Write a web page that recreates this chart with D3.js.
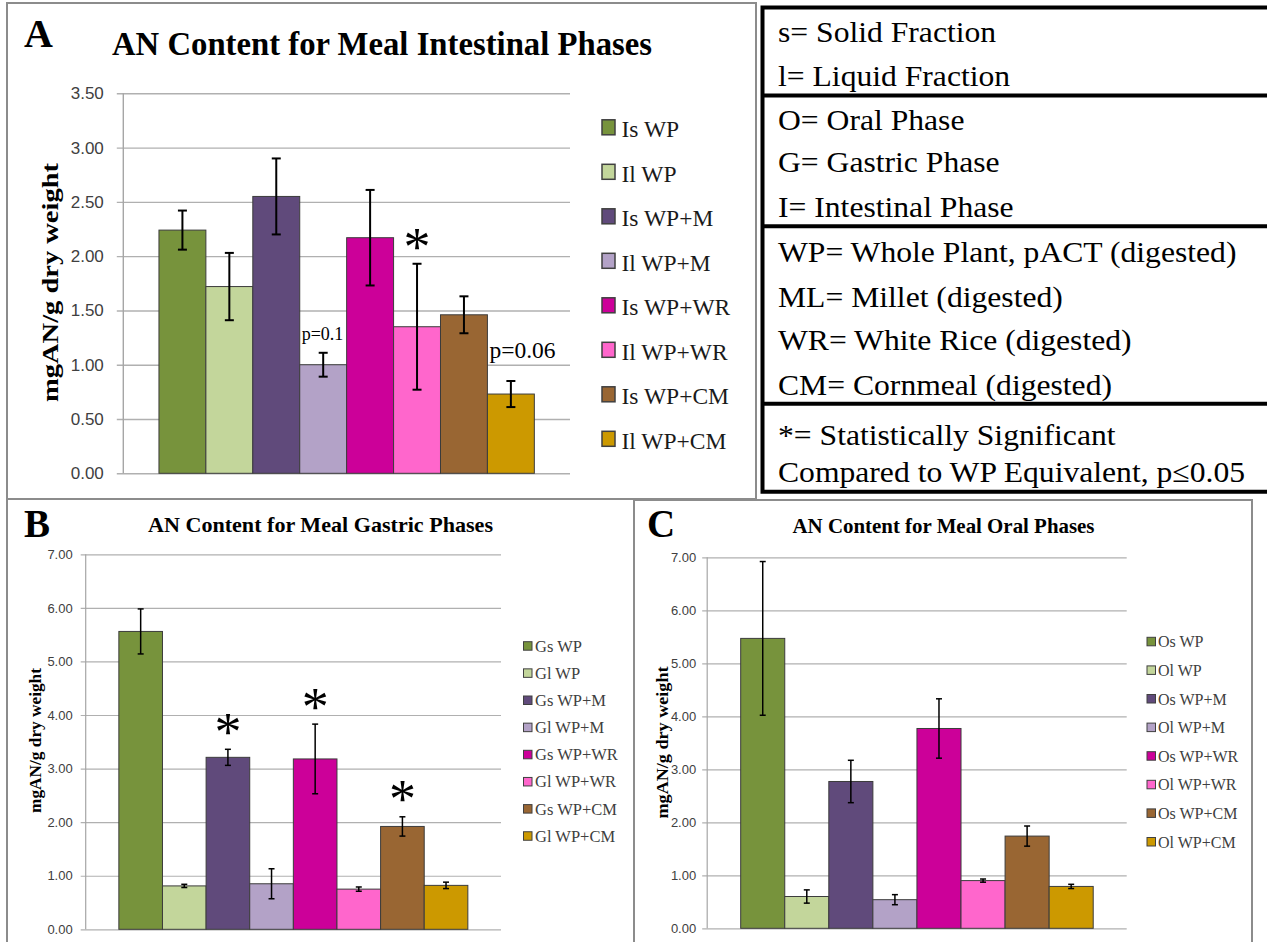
<!DOCTYPE html>
<html>
<head>
<meta charset="utf-8">
<script src="https://cdn.jsdelivr.net/npm/d3@7"></script>
<style>
  html, body { margin: 0; padding: 0; background: #ffffff; }
  svg { display: block; }
</style>
</head>
<body>
<svg id="fig" width="1267" height="942"></svg>
<script>
// ---- Data ----
const barColors = ["#77933C", "#C3D69B", "#604A7B", "#B3A2C7", "#CC0099", "#FF66CC", "#996633", "#CC9900"];

const intestinalLabels = ["Is WP", "Il WP", "Is WP+M", "Il WP+M", "Is WP+WR", "Il WP+WR", "Is WP+CM", "Il WP+CM"];
const intestinalMeans  = [2.24, 1.72, 2.55, 1.00, 2.17, 1.35, 1.46, 0.73];
const intestinalErrors = [0.18, 0.31, 0.35, 0.11, 0.44, 0.58, 0.17, 0.12];
const intestinalSignificant = [5];
const intestinalNoteIndex = [3, 7];
const intestinalNoteText  = ["p=0.1", "p=0.06"];
const intestinalNoteAt    = [1.23, 1.06];

const gastricLabels = ["Gs WP", "Gl WP", "Gs WP+M", "Gl WP+M", "Gs WP+WR", "Gl WP+WR", "Gs WP+CM", "Gl WP+CM"];
const gastricMeans  = [5.56, 0.81, 3.21, 0.85, 3.18, 0.75, 1.92, 0.82];
const gastricErrors = [0.42, 0.03, 0.15, 0.28, 0.65, 0.04, 0.18, 0.06];
const gastricSignificant = [2, 4, 6];

const oralLabels = ["Os WP", "Ol WP", "Os WP+M", "Ol WP+M", "Os WP+WR", "Ol WP+WR", "Os WP+CM", "Ol WP+CM"];
const oralMeans  = [5.47, 0.60, 2.77, 0.54, 3.77, 0.90, 1.74, 0.79];
const oralErrors = [1.45, 0.125, 0.40, 0.095, 0.56, 0.03, 0.19, 0.04];
const oralSignificant = [];

const ticksIntestinal = [0, 0.5, 1, 1.5, 2, 2.5, 3, 3.5];
const ticksGastricOral = [0, 1, 2, 3, 4, 5, 6, 7];

const keyLines = [
  ["s= Solid Fraction", "l= Liquid Fraction"],
  ["O= Oral Phase", "G= Gastric Phase", "I= Intestinal Phase"],
  ["WP= Whole Plant, pACT (digested)", "ML= Millet (digested)", "WR= White Rice (digested)", "CM= Cornmeal (digested)"],
  ["*= Statistically Significant", "Compared to WP Equivalent, p\u22640.05"]
];

// ---- Drawing ----
const SERIF = "'Liberation Serif', 'Times New Roman', serif";
const SANS = "'Liberation Sans', Arial, sans-serif";
const svg = d3.select("#fig");
svg.append("rect").attr("width", 1267).attr("height", 942).attr("fill", "#fff");

// panel frames
const frame = svg.append("g").attr("fill", "none").attr("stroke", "#8c8c8c").attr("stroke-width", 2);
frame.append("rect").attr("x", 7).attr("y", 3).attr("width", 749).attr("height", 496);
frame.append("path").attr("d", "M7,499 V945 M7,499 H634 V945");
frame.append("path").attr("d", "M634,500 H1252 V945");

function drawPanel(p) {
  const g = svg.append("g");
  const y = d3.scaleLinear().domain([0, p.yMax]).range([p.y0, p.yTop]);
  const x = d3.scaleBand().domain(p.labels).range([p.axisX, p.gridRight])
    .paddingInner(0).paddingOuter(0.76);

  // gridlines with outward tick marks
  const gridAxis = d3.axisLeft(y).tickValues(p.ticks)
    .tickSize(-(p.gridRight - (p.axisX - p.tickLen))).tickFormat("");
  const grid = g.append("g").attr("transform", `translate(${p.axisX - p.tickLen},0)`).call(gridAxis);
  grid.select(".domain").remove();
  grid.selectAll(".tick line").attr("stroke", "#b0b0b0").attr("stroke-width", p.gridWidth);

  // tick labels
  const labelAxis = d3.axisLeft(y).tickValues(p.ticks).tickSize(0)
    .tickPadding(p.tickPad).tickFormat(d3.format(".2f"));
  const la = g.append("g").attr("transform", `translate(${p.axisX - p.tickLen},0)`).call(labelAxis);
  la.select(".domain").remove();
  la.selectAll("text").attr("font-family", SANS).attr("font-size", p.tickFont).attr("fill", "#404040");

  // vertical axis line
  g.append("line").attr("x1", p.axisX).attr("x2", p.axisX)
    .attr("y1", y(0)).attr("y2", y(p.yMax)).attr("stroke", "#a6a6a6").attr("stroke-width", p.gridWidth);

  // bars
  const rows = p.labels.map((l, i) => ({ label: l, v: p.means[i], e: p.errors[i], c: barColors[i], i }));
  g.selectAll("rect.bar").data(rows).join("rect").attr("class", "bar")
    .attr("x", d => x(d.label)).attr("width", x.bandwidth())
    .attr("y", d => y(d.v)).attr("height", d => y(0) - y(d.v))
    .attr("fill", d => d.c).attr("stroke", "#3c3c3c").attr("stroke-width", 1);

  // error bars
  const eb = g.selectAll("g.err").data(rows).join("g").attr("class", "err")
    .attr("stroke", "#000").attr("stroke-width", p.errWidth);
  eb.append("line").attr("x1", d => x(d.label) + x.bandwidth() / 2).attr("x2", d => x(d.label) + x.bandwidth() / 2)
    .attr("y1", d => y(d.v + d.e)).attr("y2", d => y(d.v - d.e));
  eb.append("line").attr("x1", d => x(d.label) + x.bandwidth() / 2 - p.cap / 2).attr("x2", d => x(d.label) + x.bandwidth() / 2 + p.cap / 2)
    .attr("y1", d => y(d.v + d.e)).attr("y2", d => y(d.v + d.e));
  eb.append("line").attr("x1", d => x(d.label) + x.bandwidth() / 2 - p.cap / 2).attr("x2", d => x(d.label) + x.bandwidth() / 2 + p.cap / 2)
    .attr("y1", d => y(d.v - d.e)).attr("y2", d => y(d.v - d.e));

  // significance asterisks
  g.selectAll("text.sig").data(p.significant.map(i => rows[i])).join("text").attr("class", "sig")
    .attr("x", d => x(d.label) + x.bandwidth() / 2)
    .attr("y", d => y(d.v + d.e) - p.sigGap + 0.47 * p.sigFont)
    .attr("text-anchor", "middle").attr("font-family", SERIF).attr("font-size", p.sigFont)
    .attr("fill", "#000").text("*");

  // p-value notes
  (p.notes || []).forEach(n => {
    g.append("text").attr("x", x(p.labels[n.index]) + 2).attr("y", y(n.at))
      .attr("font-family", SERIF).attr("font-size", n.size).attr("fill", "#000").text(n.text);
  });

  // legend
  const lg = g.append("g");
  rows.forEach((d, i) => {
    const by = p.legY + i * p.legStep;
    lg.append("rect").attr("x", p.legX).attr("y", by - p.swH - p.swLift)
      .attr("width", p.swW).attr("height", p.swH)
      .attr("fill", d.c).attr("stroke", "#404040").attr("stroke-width", p.swStroke);
    lg.append("text").attr("x", p.legTextX).attr("y", by)
      .attr("font-family", SERIF).attr("font-size", p.legFont).attr("fill", p.legColor).text(d.label);
  });

  // title, panel letter, axis title
  g.append("text").attr("x", p.titleX).attr("y", p.titleY)
    .attr("font-family", SERIF).attr("font-weight", "bold").attr("font-size", p.titleFont)
    .attr("textLength", p.titleLen).attr("lengthAdjust", "spacingAndGlyphs").text(p.title);
  g.append("text").attr("x", p.letterX).attr("y", p.letterY)
    .attr("font-family", SERIF).attr("font-weight", "bold").attr("font-size", p.letterFont).text(p.letter);
  g.append("text").attr("transform", `translate(${p.ylabX},${p.ylabY}) rotate(-90)`)
    .attr("text-anchor", "middle").attr("font-family", SERIF).attr("font-weight", "bold")
    .attr("font-size", p.ylabFont).attr("textLength", p.ylabLen).attr("lengthAdjust", "spacingAndGlyphs")
    .text("mgAN/g dry weight");
}

drawPanel({
  labels: intestinalLabels, means: intestinalMeans, errors: intestinalErrors,
  significant: intestinalSignificant,
  notes: intestinalNoteIndex.map((idx, k) => ({ index: idx, text: intestinalNoteText[k], at: intestinalNoteAt[k], size: k === 0 ? 18 : 23.5 })),
  yMax: 3.5, ticks: ticksIntestinal, y0: 473.3, yTop: 93.3,
  axisX: 123.3, gridRight: 570, tickLen: 6.5, tickPad: 13, tickFont: 17, gridWidth: 1.4,
  errWidth: 2, cap: 9, sigFont: 54, sigGap: 24,
  legX: 602, legTextX: 621.5, legY: 137.3, legStep: 44.5, swW: 13, swH: 15, swLift: 2.5, swStroke: 1.5,
  legFont: 23.5, legColor: "#1a1a1a",
  title: "AN Content for Meal Intestinal Phases", titleX: 112, titleY: 55, titleFont: 33, titleLen: 540,
  letter: "A", letterX: 24, letterY: 47, letterFont: 40,
  ylabX: 58, ylabY: 282.5, ylabFont: 24, ylabLen: 239
});

drawPanel({
  labels: gastricLabels, means: gastricMeans, errors: gastricErrors,
  significant: gastricSignificant,
  yMax: 7, ticks: ticksGastricOral, y0: 929.3, yTop: 554.3,
  axisX: 85.7, gridRight: 501, tickLen: 5, tickPad: 8, tickFont: 13, gridWidth: 1.2,
  errWidth: 1.5, cap: 6, sigFont: 54, sigGap: 25,
  legX: 523.5, legTextX: 535, legY: 651.7, legStep: 27.15, swW: 8.5, swH: 8.5, swLift: 1.5, swStroke: 1,
  legFont: 16.5, legColor: "#404040",
  title: "AN Content for Meal Gastric Phases", titleX: 148, titleY: 531.7, titleFont: 22, titleLen: 345,
  letter: "B", letterX: 24, letterY: 536.7, letterFont: 39,
  ylabX: 41, ylabY: 740.5, ylabFont: 16, ylabLen: 145
});

drawPanel({
  labels: oralLabels, means: oralMeans, errors: oralErrors,
  significant: oralSignificant,
  yMax: 7, ticks: ticksGastricOral, y0: 928.3, yTop: 557.3,
  axisX: 707.2, gridRight: 1126.7, tickLen: 5, tickPad: 6, tickFont: 13, gridWidth: 1.2,
  errWidth: 1.5, cap: 6, sigFont: 54, sigGap: 25,
  legX: 1147, legTextX: 1158, legY: 647.3, legStep: 28.6, swW: 8.5, swH: 8.5, swLift: 1.5, swStroke: 1,
  legFont: 16, legColor: "#404040",
  title: "AN Content for Meal Oral Phases", titleX: 792.5, titleY: 533.3, titleFont: 22, titleLen: 302,
  letter: "C", letterX: 647, letterY: 537, letterFont: 39,
  ylabX: 668, ylabY: 742.5, ylabFont: 16, ylabLen: 152
});

// ---- Abbreviation key ----
const key = svg.append("g");
const keyBox = key.append("g").attr("fill", "none").attr("stroke", "#000").attr("stroke-width", 4);
keyBox.append("path").attr("d", "M1272,7.5 H762.5 V491.7 H1272");
const dividerY = [95.5, 226.2, 403.8];
dividerY.forEach(yy => keyBox.append("line").attr("x1", 762.5).attr("x2", 1272).attr("y1", yy).attr("y2", yy));

const keyBaselines = [[42.3, 86], [130, 171.7, 216.7], [261.7, 306.7, 350, 395], [445, 481.7]];
const keyText = key.append("g").attr("transform", "translate(778,0) scale(1.072,1)");
keyLines.forEach((grp, gi) => grp.forEach((line, li) => {
  keyText.append("text").attr("x", 0).attr("y", keyBaselines[gi][li])
    .attr("font-family", SERIF).attr("font-size", 29.5).attr("fill", "#000").text(line);
}));
</script>
</body>
</html>
